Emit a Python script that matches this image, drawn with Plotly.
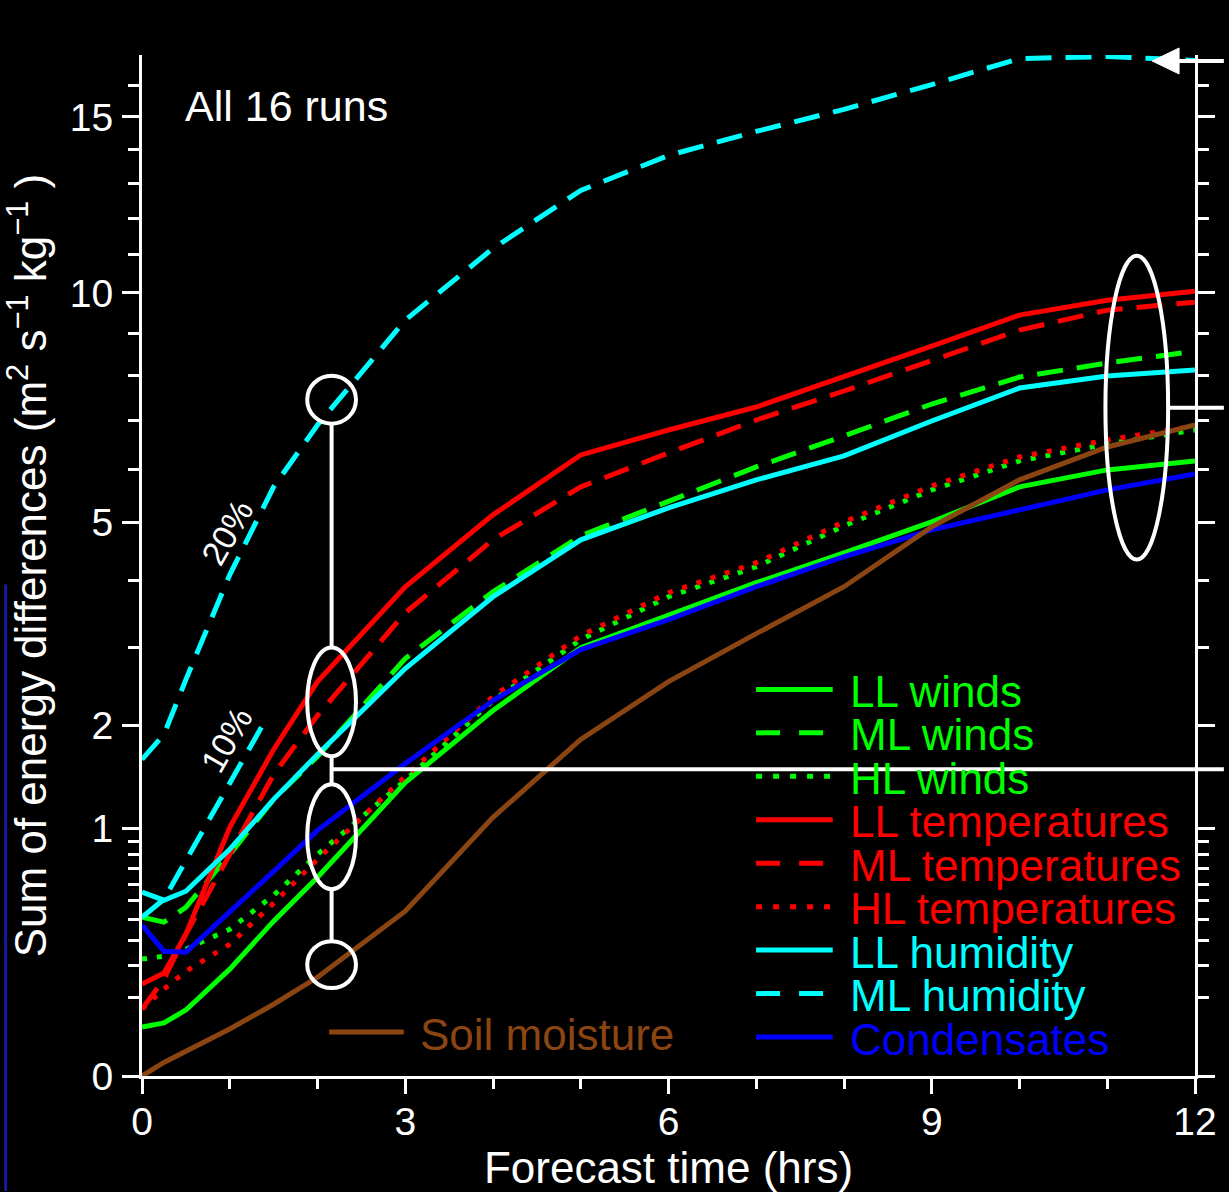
import numpy as np
import plotly.graph_objects as go

# ---------------- data ----------------
hours = [0, 0.25, 0.5, 1, 1.5, 2, 3, 4, 5, 6, 7, 8, 9, 10, 11, 12]

ll_winds = [0.039, 0.046, 0.071, 0.186, 0.391, 0.644, 1.405, 2.178, 2.992, 3.470, 3.968, 4.464, 5.008, 5.660, 5.991, 6.170]
ml_winds = [0.411, 0.386, 0.464, 0.801, 1.248, 1.665, 2.841, 3.824, 4.759, 5.376, 6.050, 6.681, 7.364, 7.967, 8.289, 8.570]
hl_winds = [0.223, 0.234, 0.262, 0.351, 0.533, 0.801, 1.425, 2.299, 3.105, 3.746, 4.229, 4.936, 5.602, 6.170, 6.515, 6.806]
ll_temps = [0.138, 0.173, 0.328, 1.008, 1.739, 2.537, 3.904, 5.135, 6.290, 6.806, 7.299, 7.967, 8.688, 9.441, 9.816, 10.045]
ml_temps = [0.073, 0.153, 0.328, 0.801, 1.483, 2.119, 3.500, 4.689, 5.660, 6.331, 7.018, 7.652, 8.335, 9.073, 9.565, 9.766]
hl_temps = [0.073, 0.123, 0.179, 0.283, 0.487, 0.766, 1.463, 2.348, 3.162, 3.809, 4.296, 5.008, 5.679, 6.250, 6.597, 6.891]
ll_humidity = [0.551, 0.504, 0.557, 0.838, 1.248, 1.686, 2.707, 3.746, 4.689, 5.264, 5.795, 6.270, 6.997, 7.718, 7.990, 8.127]
ml_humidity = [1.634, 1.902, 2.563, 4.097, 5.660, 6.912, 9.317, 11.17, 12.79, 13.82, 14.55, 15.24, 16.03, 16.88, 16.95, 16.82]
condensates = [0.371, 0.254, 0.250, 0.437, 0.683, 0.984, 1.593, 2.299, 2.965, 3.396, 3.904, 4.397, 4.865, 5.227, 5.602, 5.912]
soil_moisture = [0.0, 0.003, 0.010, 0.036, 0.084, 0.159, 0.443, 1.091, 1.847, 2.537, 3.191, 3.904, 4.918, 5.795, 6.453, 6.912]

# short "10%" curve
pct10_hours = [0, 0.25, 1.43]
pct10_values = [0.411, 0.509, 2.107]

y_major = [0, 1, 2, 5, 10, 15]
y_minor = [0.1, 0.2, 0.3, 0.4, 0.5, 0.6, 0.7, 0.8, 0.9, 3, 4, 6, 7, 8, 9, 11, 12, 13, 14, 16]
x_major = [0, 3, 6, 9, 12]
x_minor = [1, 2, 4, 5, 7, 8, 10, 11]
y_top = 17

GREEN, RED, CYAN, BLUE, BROWN = "#00ff00", "#ff0000", "#00ffff", "#0000ff", "#8b4513"
DASH = "26px,14px"
DOT = "5px,10px"
LW = 5

series = [
    ("LL winds", ll_winds, GREEN, "solid"),
    ("ML winds", ml_winds, GREEN, DASH),
    ("HL winds", hl_winds, GREEN, DOT),
    ("LL temperatures", ll_temps, RED, "solid"),
    ("ML temperatures", ml_temps, RED, DASH),
    ("HL temperatures", hl_temps, RED, DOT),
    ("LL humidity", ll_humidity, CYAN, "solid"),
    ("ML humidity", ml_humidity, CYAN, DASH),
    ("Condensates", condensates, BLUE, "solid"),
]

fig = go.Figure()
for name, vals, color, dash in series:
    fig.add_trace(go.Scatter(x=hours, y=np.sqrt(vals), mode="lines", name=name,
                             line=dict(color=color, width=LW, dash=dash), showlegend=False))
fig.add_trace(go.Scatter(x=pct10_hours, y=np.sqrt(pct10_values), mode="lines", name="10%",
                         line=dict(color=CYAN, width=LW, dash=DASH), showlegend=False))
fig.add_trace(go.Scatter(x=hours, y=np.sqrt(soil_moisture), mode="lines", name="Soil moisture",
                         line=dict(color=BROWN, width=LW), showlegend=False))

# ---------------- layout helpers (pixel -> paper) ----------------
W, H = 1229, 1192
L, R, T, B = 142, 1200, 55, 1077
def px(x): return (x - L) / (R - L)
def py(y): return (B - y) / (B - T)

FONT = "Liberation Sans, Arial, Helvetica, sans-serif"
shapes = []
annotations = []

def seg(x0, y0, x1, y1, color="white", width=4, dash="solid"):
    shapes.append(dict(type="line", xref="paper", yref="paper", x0=px(x0), y0=py(y0),
                       x1=px(x1), y1=py(y1), line=dict(color=color, width=width, dash=dash)))

def oval(x0, y0, x1, y1):
    shapes.append(dict(type="circle", xref="paper", yref="paper", x0=px(x0), y0=py(y0),
                       x1=px(x1), y1=py(y1), line=dict(color="white", width=4)))

# vertical bracket with circles / ellipses
oval(308, 376, 357, 424)
oval(308, 648, 357, 757)
oval(308, 785, 357, 890)
oval(308, 942, 357, 989)
seg(332.5, 424, 332.5, 648)
seg(332.5, 757, 332.5, 785)
seg(332.5, 890, 332.5, 942)
seg(332.5, 770, 1229, 770)
# right ellipse and connectors
oval(1110, 256, 1173, 560)
seg(1173, 408, 1229, 408)
seg(1182, 61, 1229, 61)
shapes.append(dict(type="path", xref="paper", yref="paper",
                   path="M %f,%f L %f,%f L %f,%f Z" % (px(1157), py(61), px(1184), py(48), px(1184), py(74)),
                   fillcolor="white", line=dict(color="white", width=1)))
# thin blue edge line at far left
seg(5, 585, 5, 1192, color="#1a1aa0", width=3)

annotations.append(dict(text="All 16 runs", xref="paper", yref="paper", x=px(183), y=py(106),
                        xanchor="left", yanchor="middle", showarrow=False,
                        font=dict(family=FONT, size=43, color="white")))
for txt, cx, cy in [("20%", 227, 533), ("10%", 227, 741)]:
    annotations.append(dict(text=txt, xref="paper", yref="paper", x=px(cx), y=py(cy),
                            xanchor="center", yanchor="middle", showarrow=False, textangle=-60,
                            font=dict(family=FONT, size=34, color="white")))

# manual legend (long line samples as in the reference)
LEG_DASH = "24px,19px"
LEG_DOT = "6px,11px"
for i, (name, vals, color, dash) in enumerate(series):
    yrow = 690 + 43.5 * i
    d = "solid" if dash == "solid" else (LEG_DASH if dash == DASH else LEG_DOT)
    seg(759, yrow, 836, yrow, color=color, width=LW, dash=d)
    annotations.append(dict(text=name, xref="paper", yref="paper", x=px(851), y=py(yrow + 2),
                            xanchor="left", yanchor="middle", showarrow=False,
                            font=dict(family=FONT, size=44, color=color)))
seg(330, 1033, 405, 1033, color=BROWN, width=LW)
annotations.append(dict(text="Soil moisture", xref="paper", yref="paper", x=px(419), y=py(1035),
                        xanchor="left", yanchor="middle", showarrow=False,
                        font=dict(family=FONT, size=44, color=BROWN)))

for s in shapes:
    s["layer"] = "above"

axis_common = dict(showgrid=False, zeroline=False, showline=True, linecolor="white", linewidth=3,
                   ticks="outside", tickcolor="white", tickwidth=3,
                   tickfont=dict(family=FONT, size=39, color="white"))

fig.update_layout(
    width=W, height=H, autosize=False,
    margin=dict(l=L, r=W - R, t=T, b=H - B, pad=0),
    paper_bgcolor="black", plot_bgcolor="black",
    font=dict(family=FONT, color="white"),
    showlegend=False,
    xaxis=dict(range=[0, 12], tickmode="array", tickvals=x_major, ticktext=[str(v) for v in x_major],
               ticklen=15, ticklabelstandoff=-6,
               minor=dict(tickmode="array", tickvals=x_minor, ticks="outside", ticklen=10,
                          tickwidth=3, tickcolor="white"),
               title=dict(text="\u2009Forecast time (hrs)", font=dict(family=FONT, size=44, color="white"),
                          standoff=6),
               **axis_common),
    yaxis=dict(range=[0, np.sqrt(y_top)], tickmode="array", tickvals=list(np.sqrt(y_major)),
               ticktext=[str(v) for v in y_major], ticklen=17, mirror="allticks", ticklabelstandoff=1,
               minor=dict(tickmode="array", tickvals=list(np.sqrt(y_minor)), ticks="outside", ticklen=11,
                          tickwidth=3, tickcolor="white"),
               title=dict(text="\u2002\u2009Sum of energy differences (m<sup>2</sup> s<sup>\u22121</sup> kg<sup>\u22121</sup> )",
                          font=dict(family=FONT, size=44, color="white"), standoff=22),
               **axis_common),
    shapes=shapes,
    annotations=annotations,
)

fig.write_html("out.html", config={"displayModeBar": False})

# remove the default page margin and keep the document exactly the figure size
with open("out.html", "r", encoding="utf-8") as f:
    html = f.read()
css = ("<style>html,body{margin:0;padding:0;background:black;overflow:hidden;"
       "width:1229px;height:1192px;}.plotly-graph-div{position:absolute;top:0;left:0;}</style>")
html = html.replace("<head>", "<head>" + css, 1)
with open("out.html", "w", encoding="utf-8") as f:
    f.write(html)
